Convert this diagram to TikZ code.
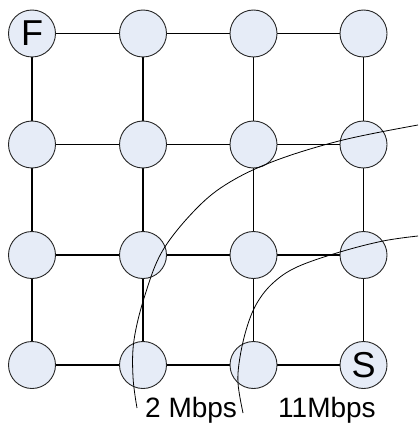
\documentclass[tikz,border=0pt]{standalone}
\usepackage{fontspec}
\setmainfont{Liberation Sans}
\usetikzlibrary{backgrounds}
\definecolor{nodefill}{RGB}{230,236,247}
\begin{document}
\begin{tikzpicture}[x=1pt,y=-1pt,
  station/.style={circle,draw=black!85,line width=0.9pt,fill=nodefill,
    minimum size=47pt,inner sep=0pt,font=\fontsize{36}{36}\selectfont},
  link/.style={line width=1.3pt},
  rangeline/.style={line width=0.8pt},
  rate/.style={anchor=base west,inner sep=0pt,font=\fontsize{28}{28}\selectfont}]
\useasboundingbox (0,0) rectangle (418,425);
% 4x4 grid of stations
\foreach \i/\x in {1/32,2/143,3/253.5,4/363.5}{
  \foreach \j/\y in {1/33.5,2/144.5,3/255,4/365}{
    \ifnum\i\j=11 \node[station] (n\i\j) at (\x,\y) {F};
    \else\ifnum\i\j=44 \node[station] (n\i\j) at (\x,\y) {S};
    \else \node[station] (n\i\j) at (\x,\y) {};
    \fi\fi
  }
}
% grid links, drawn behind the stations
\begin{scope}[on background layer]
\foreach \i in {1,2,3,4}{
  \foreach \a/\b in {1/2,2/3,3/4}{
    \draw[link] (n\a\i) -- (n\b\i);
    \draw[link] (n\i\a) -- (n\i\b);
  }
}
\end{scope}
% transmission range boundaries
\draw[rangeline] plot[smooth,tension=0.6] coordinates {
  (418,125) (343,140) (277,160) (230,182) (197,208) (163,250)
  (145,295) (134,340) (133,377) (137,408)};
\draw[rangeline] plot[smooth,tension=0.6] coordinates {
  (418,236) (383,241) (340,252) (297,267) (273,283) (257,303)
  (247,327) (240,357) (238,383) (243,413)};
% data rates
\node[rate] (r2) at (145,417) {2 Mbps};
\node[rate] (r11) at (278,417) {11Mbps};
\end{tikzpicture}
\end{document}
